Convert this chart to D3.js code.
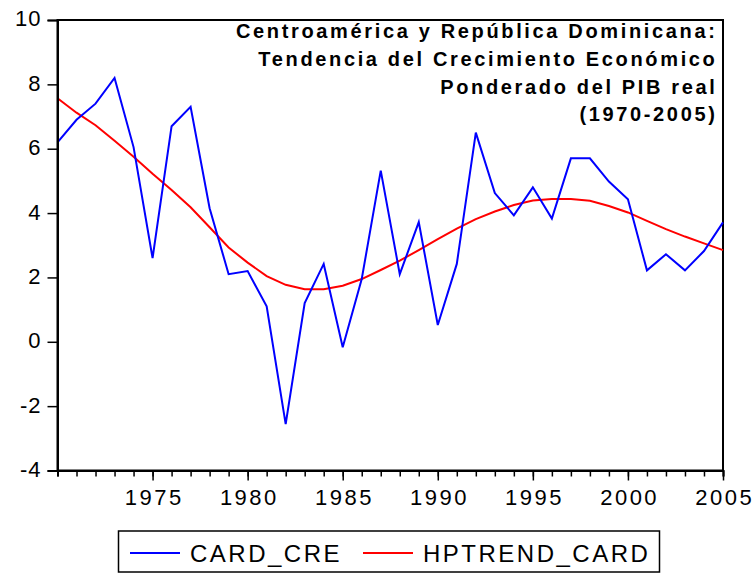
<!DOCTYPE html>
<html>
<head>
<meta charset="utf-8">
<script src="https://cdn.jsdelivr.net/npm/d3@7"></script>
<style>
  body { margin: 0; background: #fff; }
  svg, svg text { font-family: "Liberation Sans", Arial, sans-serif; }
</style>
</head>
<body>
<div id="graph"></div>
<script>
// Years 1970-2005
var years = [1970, 1971, 1972, 1973, 1974, 1975, 1976, 1977, 1978, 1979,
             1980, 1981, 1982, 1983, 1984, 1985, 1986, 1987, 1988, 1989,
             1990, 1991, 1992, 1993, 1994, 1995, 1996, 1997, 1998, 1999,
             2000, 2001, 2002, 2003, 2004, 2005];

var cardCre = [6.2, 6.9, 7.4, 8.2, 6.05, 2.6, 6.7, 7.3, 4.15, 2.1,
               2.2, 1.1, -2.56, 1.2, 2.42, -0.17, 1.95, 5.32, 2.1, 3.72,
               0.52, 2.42, 6.5, 4.62, 3.93, 4.8, 3.83, 5.7, 5.7, 4.98,
               4.43, 2.22, 2.72, 2.22, 2.82, 3.71];

var hpTrend = [7.57, 7.12, 6.73, 6.25, 5.75, 5.22, 4.72, 4.18, 3.56, 2.93,
               2.46, 2.04, 1.77, 1.63, 1.63, 1.74, 1.95, 2.23, 2.52, 2.85,
               3.19, 3.52, 3.81, 4.05, 4.25, 4.39, 4.44, 4.44, 4.38, 4.22,
               4.02, 3.76, 3.5, 3.27, 3.06, 2.85];

var yTicks = [-4, -2, 0, 2, 4, 6, 8, 10];
var xTicks = [1975, 1980, 1985, 1990, 1995, 2000, 2005];

var titleLines = ["Centroamérica y República Dominicana:",
                  "Tendencia del Crecimiento Económico",
                  "Ponderado del PIB real",
                  "(1970-2005)"];

var seriesNames = ["CARD_CRE", "HPTREND_CARD"];
var seriesColors = ["#0000ff", "#ff0000"];

var width = 755, height = 573;
var margins = { top: 20, right: 32, bottom: 102.5, left: 57.5 };
var fontFam = '"Liberation Sans", Arial, sans-serif';

var xScale = d3.scaleLinear()
    .domain([1970, 2005])
    .range([margins.left, width - margins.right]);

var yScale = d3.scaleLinear()
    .domain([-4, 10])
    .range([height - margins.bottom, margins.top]);

var svg = d3.select("#graph").append("svg")
    .attr("width", width)
    .attr("height", height);

// frame (top and right)
svg.append("rect")
    .attr("x", margins.left)
    .attr("y", margins.top)
    .attr("width", xScale(2005) - margins.left)
    .attr("height", yScale(-4) - margins.top)
    .attr("fill", "none")
    .attr("stroke", "#000")
    .attr("stroke-width", 2);

// lines
var line = d3.line()
    .x(function(d, i) { return xScale(years[i]); })
    .y(function(d) { return yScale(d); });

svg.append("path")
    .datum(hpTrend)
    .attr("d", line)
    .attr("fill", "none")
    .attr("stroke", seriesColors[1])
    .attr("stroke-width", 2);

svg.append("path")
    .datum(cardCre)
    .attr("d", line)
    .attr("fill", "none")
    .attr("stroke", seriesColors[0])
    .attr("stroke-width", 2);

// Y axis (plain hyphen for negatives, like the original)
var yAxis = svg.append("g")
    .attr("transform", "translate(" + margins.left + ",0)")
    .call(d3.axisLeft(yScale).tickValues(yTicks).tickSize(10).tickPadding(6)
        .tickFormat(function(d) { return String(d); }));
yAxis.attr("font-family", fontFam);
yAxis.select(".domain").attr("stroke-width", 2);
yAxis.selectAll(".tick line").attr("stroke-width", 1.5);
yAxis.selectAll("text")
    .attr("font-size", "22px")
    .attr("fill", "#000")
    .attr("dy", "0.27em")
    .style("letter-spacing", "1px");

// X axis minor ticks
var xAxisMinor = svg.append("g")
    .attr("transform", "translate(0," + yScale(-4) + ")")
    .call(d3.axisBottom(xScale).tickValues(years).tickSize(6).tickFormat(""));
xAxisMinor.select(".domain").attr("stroke-width", 2);
xAxisMinor.selectAll(".tick line").attr("stroke-width", 1.5);

// X axis major ticks
var xAxis = svg.append("g")
    .attr("transform", "translate(0," + yScale(-4) + ")")
    .call(d3.axisBottom(xScale).tickValues(xTicks).tickSize(10).tickPadding(8)
        .tickFormat(function(d) { return String(d); }));
xAxis.attr("font-family", fontFam);
xAxis.select(".domain").remove();
xAxis.selectAll(".tick line").attr("stroke-width", 1.5);
xAxis.selectAll("text")
    .attr("font-size", "22px")
    .attr("fill", "#000")
    .attr("y", 34.5)
    .attr("dy", null)
    .attr("dx", "1.2px")
    .style("letter-spacing", "2.5px");

// Title
svg.selectAll(".title")
    .data(titleLines)
    .enter().append("text")
    .attr("class", "title")
    .attr("x", 717.5)
    .attr("y", function(d, i) { return 38 + i * 27.8; })
    .attr("text-anchor", "end")
    .attr("font-size", "20px")
    .attr("font-weight", "bold")
    .style("letter-spacing", "2.65px")
    .text(function(d) { return d; });

// Legend
svg.append("rect")
    .attr("x", 118.5)
    .attr("y", 531)
    .attr("width", 541)
    .attr("height", 41)
    .attr("fill", "#fff")
    .attr("stroke", "#000")
    .attr("stroke-width", 1.5);

var legendX = [130, 363];
var legend = svg.selectAll(".legend")
    .data(seriesNames)
    .enter().append("g")
    .attr("class", "legend")
    .attr("transform", function(d, i) { return "translate(" + legendX[i] + ",553)"; });

legend.append("line")
    .attr("x1", 0)
    .attr("x2", 50)
    .attr("stroke", function(d, i) { return seriesColors[i]; })
    .attr("stroke-width", 2);

legend.append("text")
    .attr("x", 60)
    .attr("y", 8.5)
    .attr("font-size", "24px")
    .style("letter-spacing", "2.5px")
    .text(function(d) { return d; });
</script>
</body>
</html>
